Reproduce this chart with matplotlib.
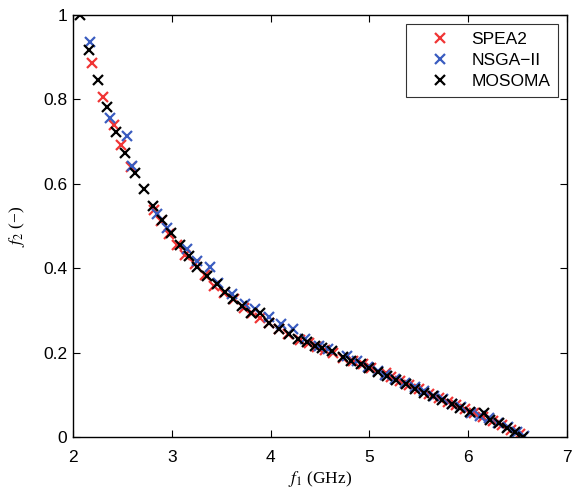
import matplotlib
matplotlib.use("Agg")
import matplotlib.pyplot as plt

# Pareto fronts (f1 in GHz, f2 dimensionless)
spea2_f1 = [2.195, 2.305, 2.413, 2.483, 2.587, 2.818, 2.886, 2.97, 3.054, 3.138,
            3.239, 3.34, 3.424, 3.525, 3.626, 3.727, 3.811, 3.895, 3.98, 4.08,
            4.18, 4.30, 4.384, 4.468, 4.552, 4.636, 4.737, 4.838, 4.939, 5.02,
            5.17, 5.22, 5.31, 5.40, 5.50, 5.60, 5.70, 5.80, 5.88, 5.97,
            6.06, 6.15, 6.25, 6.34, 6.43, 6.52]
spea2_f2 = [0.886, 0.805, 0.739, 0.693, 0.639, 0.537, 0.511, 0.481, 0.454, 0.431,
            0.41, 0.384, 0.358, 0.341, 0.328, 0.305, 0.295, 0.283, 0.271, 0.257,
            0.243, 0.230, 0.222, 0.214, 0.205, 0.198, 0.188, 0.180, 0.172, 0.164,
            0.152, 0.142, 0.133, 0.124, 0.113, 0.103, 0.093, 0.083, 0.076, 0.066,
            0.057, 0.047, 0.037, 0.028, 0.017, 0.007]

nsga_f1 = [2.171, 2.379, 2.55, 2.597, 2.848, 2.949, 3.15, 3.25, 3.387, 3.47,
           3.61, 3.74, 3.84, 3.98, 4.11, 4.23, 4.35, 4.485, 4.586, 4.77,
           4.87, 4.99, 5.09, 5.16, 5.26, 5.36, 5.46, 5.55, 5.65, 5.74,
           5.84, 5.93, 6.03, 6.12, 6.21, 6.30, 6.40, 6.49, 6.56]
nsga_f2 = [0.936, 0.756, 0.714, 0.643, 0.529, 0.495, 0.446, 0.418, 0.404, 0.366,
           0.339, 0.315, 0.303, 0.285, 0.267, 0.257, 0.232, 0.216, 0.208, 0.192,
           0.18, 0.167, 0.156, 0.147, 0.137, 0.128, 0.118, 0.108, 0.098, 0.089,
           0.079, 0.071, 0.058, 0.050, 0.045, 0.034, 0.024, 0.012, 0.003]

mosoma_f1 = [2.067, 2.161, 2.255, 2.346, 2.436, 2.527, 2.626, 2.717, 2.808, 2.896,
             2.99, 3.088, 3.172, 3.256, 3.357, 3.458, 3.542, 3.616, 3.71, 3.805,
             3.896, 3.987, 4.088, 4.182, 4.276, 4.367, 4.451, 4.519, 4.621, 4.732,
             4.816, 4.91, 5.0, 5.084, 5.178, 5.268, 5.369, 5.459, 5.553, 5.647,
             5.737, 5.838, 5.921, 6.015, 6.156, 6.223, 6.307, 6.39, 6.474, 6.558]
mosoma_f2 = [1.0, 0.916, 0.845, 0.783, 0.722, 0.673, 0.626, 0.588, 0.547, 0.515,
             0.484, 0.454, 0.428, 0.404, 0.381, 0.362, 0.344, 0.328, 0.311, 0.295,
             0.293, 0.270, 0.257, 0.245, 0.233, 0.225, 0.216, 0.210, 0.204, 0.190,
             0.180, 0.172, 0.164, 0.154, 0.144, 0.135, 0.125, 0.114, 0.105, 0.097,
             0.087, 0.079, 0.069, 0.059, 0.056, 0.041, 0.032, 0.021, 0.011, 0.0]

xticks = [2, 3, 4, 5, 6, 7]
yticks = [0, 0.2, 0.4, 0.6, 0.8, 1]
ytick_labels = ['0', '0.2', '0.4', '0.6', '0.8', '1']

plt.rcParams['font.family'] = ['Liberation Sans', 'DejaVu Sans']
plt.rcParams['mathtext.fontset'] = 'stix'

fig = plt.figure(figsize=(5.74, 4.90), dpi=100)
# axes box: x 73..567 px, y 15..437 px
ax = fig.add_axes([73/574, 53/490, 494/574, 422/490])

mk = dict(linestyle='none', marker='x', markersize=7, markeredgewidth=1.6)
ax.plot(spea2_f1, spea2_f2, color='#f03535', label='SPEA2', **mk)
ax.plot(nsga_f1, nsga_f2, color='#3a5cc0', label='NSGA\u2212II', **mk)
ax.plot(mosoma_f1, mosoma_f2, color='black', label='MOSOMA', **mk)

ax.set_xlim(2, 7)
ax.set_ylim(0, 1)
ax.set_xticks(xticks)
ax.set_xticklabels([str(t) for t in xticks])
ax.set_yticks(yticks)
ax.set_yticklabels(ytick_labels)
ax.tick_params(direction='in', top=True, right=True, length=5, width=0.8,
               labelsize=12.5, colors='black')
ax.tick_params(axis='x', pad=9)
ax.tick_params(axis='y', pad=4)
for s in ax.spines.values():
    s.set_linewidth(1.0)

ax.set_xlabel('$f_1$ (GHz)', family='Liberation Serif', fontsize=12.5, labelpad=3)
ax.set_ylabel('$f_2$ (\u2212)', family='Liberation Serif', fontsize=12.5, labelpad=12)

leg = ax.legend(loc='upper right', fontsize=12.5, frameon=True, fancybox=False,
                borderpad=0.45, handletextpad=0.3, labelspacing=0.35,
                borderaxespad=0.5, handlelength=3.0)
leg.get_frame().set_edgecolor('black')
leg.get_frame().set_linewidth(0.8)

fig.savefig('out.png', dpi=100)
